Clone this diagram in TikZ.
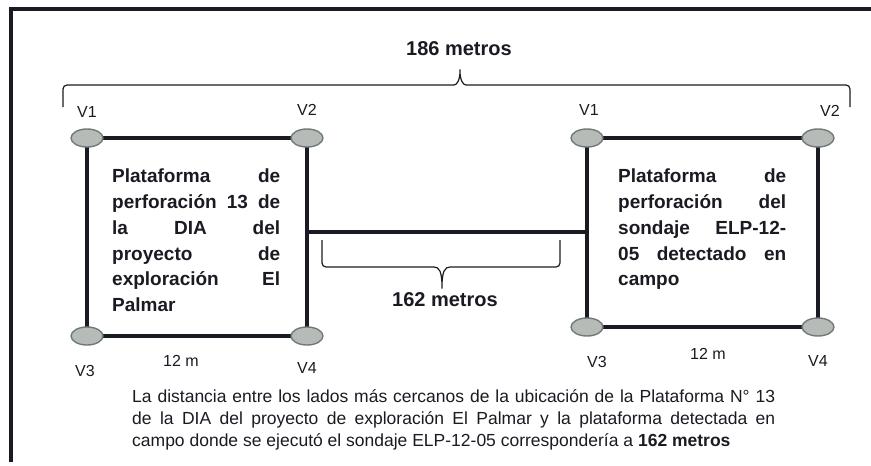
\documentclass[tikz,border=0pt]{standalone}
\usepackage{fontspec}
\setmainfont{Liberation Sans}
\usepackage{xcolor}
\usepackage{tikz}
\usetikzlibrary{
  positioning,
  shapes.geometric
}
\definecolor{ink}{HTML}{1A1A22}
\definecolor{vfill}{HTML}{B6BBB8}
\definecolor{vedge}{HTML}{707A76}

\begin{document}
\begin{tikzpicture}[x=1pt,y=-1pt,
    vertex/.style={ellipse,fill=vfill,draw=vedge,line width=1.4pt,minimum width=32pt,minimum height=18pt,inner sep=0pt},
    side/.style={draw=ink,line width=4.5pt},
    vlabel/.style={font=\fontsize{16}{18}\selectfont,text=ink,inner sep=0pt},
    bracelbl/.style={font=\bfseries\fontsize{20}{24}\selectfont,text=ink,inner sep=0pt},
    platetext/.style={text width=168pt,align=justify,inner sep=0pt,anchor=north west,text=ink,
      font=\bfseries\fontsize{19}{25.7}\selectfont},
    brace/.style={draw=ink,line width=1.2pt,rounded corners=4pt}]
    \useasboundingbox (0,0) rectangle (871,466);
    % frame
    \draw[ink,line width=4pt] (11,462) -- (11,9) -- (871,9);
    % corners of the two platforms
    \coordinate (a1) at (87,138);  \coordinate (a2) at (307,138);
    \coordinate (a3) at (87,336);  \coordinate (a4) at (307,336);
    \coordinate (b1) at (587,138); \coordinate (b2) at (818,138);
    \coordinate (b3) at (587,327); \coordinate (b4) at (818,327);
    \draw[side] (a1) -- (a2) -- (a4) -- (a3) -- cycle;
    \draw[side] (b1) -- (b2) -- (b4) -- (b3) -- cycle;
    % link between nearest sides
    \coordinate (linkl) at (307,232);
    \coordinate (linkr) at (587,232);
    \draw[ink,line width=3.5pt] (linkl) -- (linkr);
    % vertices
    \node[vertex] (pa1) at (a1) {};
    \node[vertex] (pa2) at (a2) {};
    \node[vertex] (pa3) at (a3) {};
    \node[vertex] (pa4) at (a4) {};
    \node[vertex] (pb1) at (b1) {};
    \node[vertex] (pb2) at (b2) {};
    \node[vertex] (pb3) at (b3) {};
    \node[vertex] (pb4) at (b4) {};
    \node[vlabel,above=11pt of pa1] {V1};
    \node[vlabel,above=13pt of pa2] {V2};
    \node[vlabel,above=13pt of pb1,xshift=2pt] {V1};
    \node[vlabel,above=12pt of pb2,xshift=12pt] {V2};
    \node[vlabel,below=19pt of pa3,xshift=-2pt] {V3};
    \node[vlabel,below=17pt of pa4] {V4};
    \node[vlabel,below=19pt of pb3,xshift=10pt] {V3};
    \node[vlabel,below=19pt of pb4] {V4};
    \node[vlabel] (lena) at (181,361) {12 m};
    \node[vlabel] (lenb) at (708,354) {12 m};
    % platform texts
    \node[platetext] (txta) at (112,169) {Plataforma de\linebreak perforación 13 de\linebreak la DIA del\linebreak proyecto de\linebreak exploración El\linebreak Palmar};
    \node[platetext] (txtb) at (618,169) {Plataforma de\linebreak perforación del\linebreak sondaje ELP-12-\linebreak 05 detectado en\linebreak campo};
    % braces
    \node[bracelbl] (total) at (459,49) {186 metros};
    \draw[brace] (63,107) -- (63,85) -- (450,85)
      .. controls (457,85) and (460,80) .. (460,67)
      .. controls (460,80) and (463,85) .. (470,85) -- (850,85) -- (850,107);
    \node[bracelbl] (gap) at (445,300) {162 metros};
    \draw[brace] (322,240) -- (322,267) -- (430,267)
      .. controls (439,267) and (442,271) .. (442,291)
      .. controls (442,271) and (445,267) .. (454,267) -- (560,267) -- (560,240);
    % note
    \node[text width=643pt,align=justify,inner sep=0pt,anchor=north west,text=ink,
      font=\fontsize{17.5}{22}\selectfont] (note) at (132,389)
      {La distancia entre los lados más cercanos de la ubicación de la Plataforma N° 13\linebreak
       de la DIA del proyecto de exploración El Palmar y la plataforma detectada en\linebreak
       campo donde se ejecutó el sondaje ELP-12-05 correspondería a \textbf{162 metros}};
  \end{tikzpicture}
\end{document}
